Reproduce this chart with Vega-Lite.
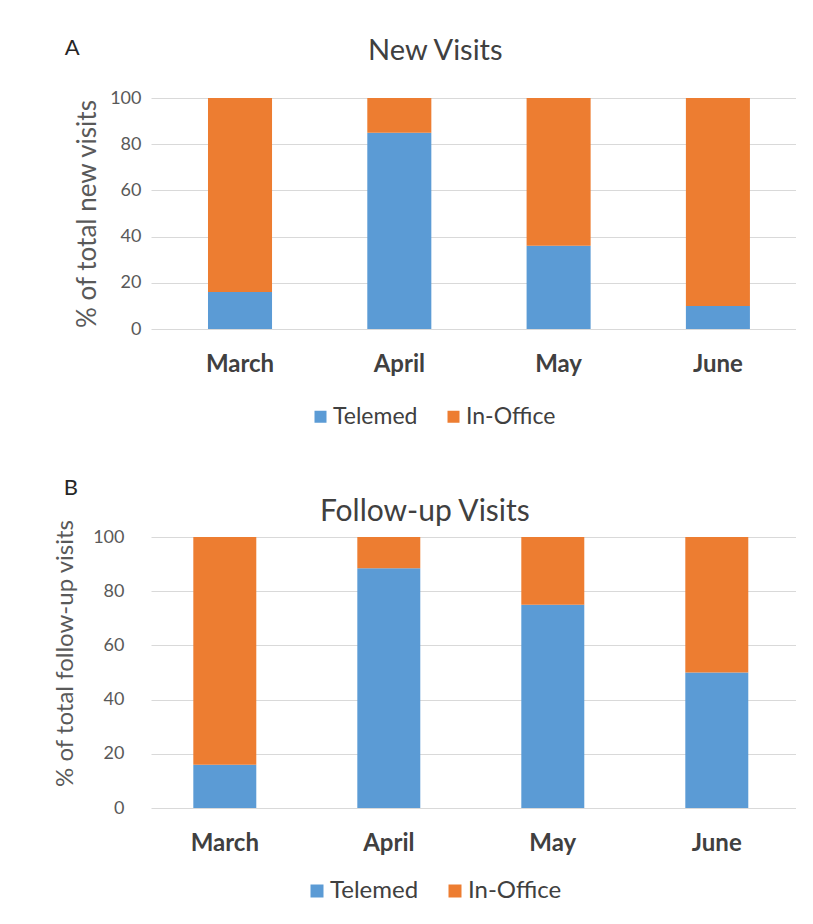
{
  "$schema": "https://vega.github.io/schema/vega-lite/v6.json",
  "background": "white",
  "padding": {"left": 53, "top": 37, "right": 0, "bottom": 0},
  "config": {"font": "Lato", "view": {"stroke": null}},
  "datasets": {
    "newVisits": [
      {"month": "March", "type": "Telemed", "value": 16},
      {"month": "March", "type": "In-Office", "value": 84},
      {"month": "April", "type": "Telemed", "value": 85},
      {"month": "April", "type": "In-Office", "value": 15},
      {"month": "May", "type": "Telemed", "value": 36},
      {"month": "May", "type": "In-Office", "value": 64},
      {"month": "June", "type": "Telemed", "value": 10},
      {"month": "June", "type": "In-Office", "value": 90}
    ],
    "followUp": [
      {"month": "March", "type": "Telemed", "value": 16},
      {"month": "March", "type": "In-Office", "value": 84},
      {"month": "April", "type": "Telemed", "value": 88.5},
      {"month": "April", "type": "In-Office", "value": 11.5},
      {"month": "May", "type": "Telemed", "value": 75},
      {"month": "May", "type": "In-Office", "value": 25},
      {"month": "June", "type": "Telemed", "value": 50},
      {"month": "June", "type": "In-Office", "value": 50}
    ]
  },
  "spacing": 48,
  "resolve": {"scale": {"color": "independent"}, "legend": {"color": "independent"}},
  "vconcat": [
    {
      "title": {"text": "A", "anchor": "start", "frame": "bounds", "fontSize": 22, "fontWeight": "normal", "color": "#262626", "offset": -23, "dx": -10},
      "vconcat": [
        {
          "data": {"name": "newVisits"},
          "width": 645,
          "height": 231,
          "title": {"text": "New Visits", "fontSize": 29, "fontWeight": "normal", "color": "#404040", "anchor": "middle", "frame": "bounds", "offset": 23},
          "mark": {"type": "bar"},
          "encoding": {
            "x": {"field": "month", "type": "nominal", "sort": ["March", "April", "May", "June"],
              "scale": {"paddingInner": 0.598, "paddingOuter": 0.3235, "align": 0.553},
              "axis": {"title": null, "labelAngle": 0, "labelFontSize": 24, "labelFontWeight": "bold", "labelColor": "#404040", "labelPadding": 23, "ticks": false, "domain": false}},
            "y": {"field": "value", "type": "quantitative", "stack": "zero", "scale": {"domain": [0, 100]},
              "axis": {"title": "% of total new visits", "titleFontSize": 26, "titleFontWeight": "normal", "titleColor": "#595959", "titlePadding": 9, "labelFontSize": 18, "labelColor": "#595959", "labelPadding": 10, "ticks": false, "domain": false, "gridColor": "#d9d9d9", "values": [0, 20, 40, 60, 80, 100]}},
            "color": {"field": "type", "type": "nominal", "sort": ["Telemed", "In-Office"],
              "scale": {"domain": ["Telemed", "In-Office"], "range": ["#5B9BD5", "#ED7D31"]},
              "legend": {"title": null, "orient": "none", "legendX": 158, "legendY": 307, "direction": "horizontal", "symbolType": "square", "symbolSize": 144, "symbolStrokeWidth": 0, "labelFontSize": 23, "labelColor": "#404040", "columnPadding": 24, "labelOffset": 1}}
          }
        }
      ]
    },
    {
      "title": {"text": "B", "anchor": "start", "frame": "bounds", "fontSize": 22, "fontWeight": "normal", "color": "#262626", "offset": -3, "dx": 10},
      "vconcat": [
        {
          "data": {"name": "followUp"},
          "width": 645,
          "height": 271,
          "title": {"text": "Follow-up Visits", "fontSize": 30, "fontWeight": "normal", "color": "#404040", "anchor": "middle", "frame": "bounds", "offset": -8},
          "mark": {"type": "bar"},
          "encoding": {
            "x": {"field": "month", "type": "nominal", "sort": ["March", "April", "May", "June"],
              "scale": {"paddingInner": 0.616, "paddingOuter": 0.2745, "align": 0.47},
              "axis": {"title": null, "labelAngle": 0, "labelFontSize": 24, "labelFontWeight": "bold", "labelColor": "#404040", "labelPadding": 23, "ticks": false, "domain": false}},
            "y": {"field": "value", "type": "quantitative", "stack": "zero", "scale": {"domain": [0, 100]},
              "axis": {"title": "% of total follow-up visits", "titleFontSize": 24, "titleFontWeight": "normal", "titleColor": "#595959", "titlePadding": 15, "titleY": 116, "labelFontSize": 18, "labelColor": "#595959", "labelPadding": 27, "ticks": false, "domain": false, "gridColor": "#d9d9d9", "values": [0, 20, 40, 60, 80, 100]}},
            "color": {"field": "type", "type": "nominal", "sort": ["Telemed", "In-Office"],
              "scale": {"domain": ["Telemed", "In-Office"], "range": ["#5B9BD5", "#ED7D31"]},
              "legend": {"title": null, "orient": "none", "legendX": 154, "legendY": 342, "direction": "horizontal", "symbolType": "square", "symbolSize": 169, "symbolStrokeWidth": 0, "labelFontSize": 24, "labelColor": "#404040", "columnPadding": 24, "labelOffset": 1}}
          }
        }
      ]
    }
  ]
}
